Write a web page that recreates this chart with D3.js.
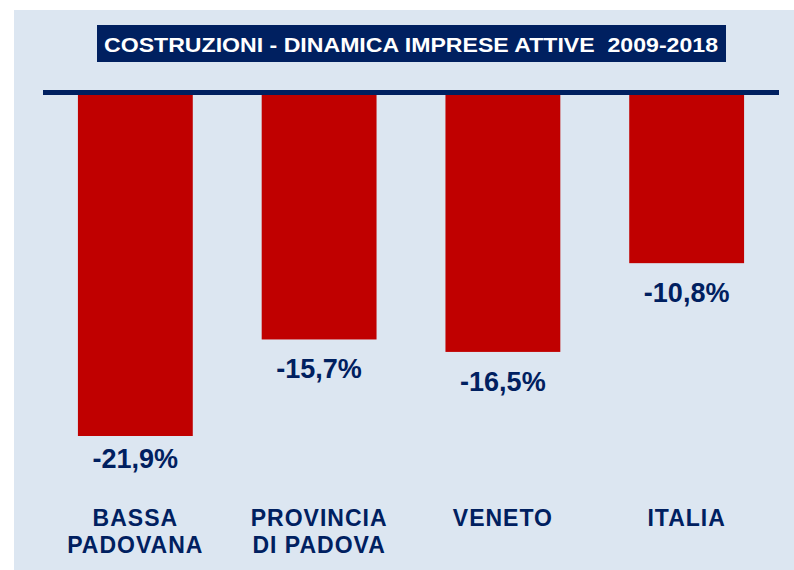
<!DOCTYPE html>
<html>
<head>
<meta charset="utf-8">
<script src="https://cdn.jsdelivr.net/npm/d3@7"></script>
<style>
  body { margin: 0; background: white; }
  text { font-family: "Liberation Sans", Arial, sans-serif; }
</style>
</head>
<body>
<div id="chart"></div>
<script>
// dati
var categories = ["BASSA PADOVANA", "PROVINCIA DI PADOVA", "VENETO", "ITALIA"];
var catLines = [["BASSA", "PADOVANA"], ["PROVINCIA", "DI PADOVA"], ["VENETO"], ["ITALIA"]];
var values = [-21.9, -15.7, -16.5, -10.8];
var valueLabels = ["-21,9%", "-15,7%", "-16,5%", "-10,8%"];
var title = "COSTRUZIONI - DINAMICA IMPRESE ATTIVE  2009-2018";

var W = 794, H = 570;
var navy = "#002060", red = "#c00000";

var svg = d3.select("#chart").append("svg")
    .attr("width", W)
    .attr("height", H);

// pannello di sfondo
svg.append("rect")
    .attr("x", 14).attr("y", 10)
    .attr("width", W - 14).attr("height", H - 10)
    .attr("fill", "#dce6f1");

var xS = d3.scaleBand()
    .domain(categories)
    .range([43, 779])
    .paddingInner(0.375)
    .paddingOuter(0.19);

var yS = d3.scaleLinear()
    .domain([0, -21.9])
    .range([95, 436]);

// barre
svg.selectAll("rect.bar")
    .data(values)
    .enter()
    .append("rect")
    .attr("class", "bar")
    .attr("x", (d, i) => xS(categories[i]))
    .attr("y", yS(0))
    .attr("width", xS.bandwidth())
    .attr("height", d => yS(d) - yS(0))
    .attr("fill", red);

// linea dello zero
svg.append("rect")
    .attr("x", 43).attr("y", yS(0) - 5)
    .attr("width", 779 - 43).attr("height", 5)
    .attr("fill", navy);

// etichette valori
svg.selectAll("text.val")
    .data(values)
    .enter()
    .append("text")
    .attr("class", "val")
    .attr("x", (d, i) => xS(categories[i]) + xS.bandwidth() / 2)
    .attr("y", d => Math.min(yS(d) + 39, 468))
    .attr("text-anchor", "middle")
    .attr("font-size", "27px")
    .attr("font-weight", "bold")
    .attr("fill", navy)
    .text((d, i) => valueLabels[i]);

// etichette categorie
var cat = svg.selectAll("text.cat")
    .data(categories)
    .enter()
    .append("text")
    .attr("class", "cat")
    .attr("text-anchor", "middle")
    .attr("font-size", "23px")
    .attr("font-weight", "bold")
    .attr("letter-spacing", "1px")
    .attr("fill", navy);

cat.each(function(d, i) {
    var t = d3.select(this);
    catLines[i].forEach(function(line, j) {
        t.append("tspan")
            .attr("x", xS(d) + xS.bandwidth() / 2)
            .attr("y", 526 + j * 27)
            .text(line);
    });
});

// titolo
svg.append("rect")
    .attr("x", 97).attr("y", 25)
    .attr("width", 629).attr("height", 37)
    .attr("fill", navy);

svg.append("text")
    .attr("x", 104).attr("y", 52)
    .attr("font-size", "21px")
    .attr("font-weight", "bold")
    .attr("fill", "white")
    .attr("textLength", 614)
    .attr("lengthAdjust", "spacingAndGlyphs")
    .style("white-space", "pre")
    .text(title);
</script>
</body>
</html>
